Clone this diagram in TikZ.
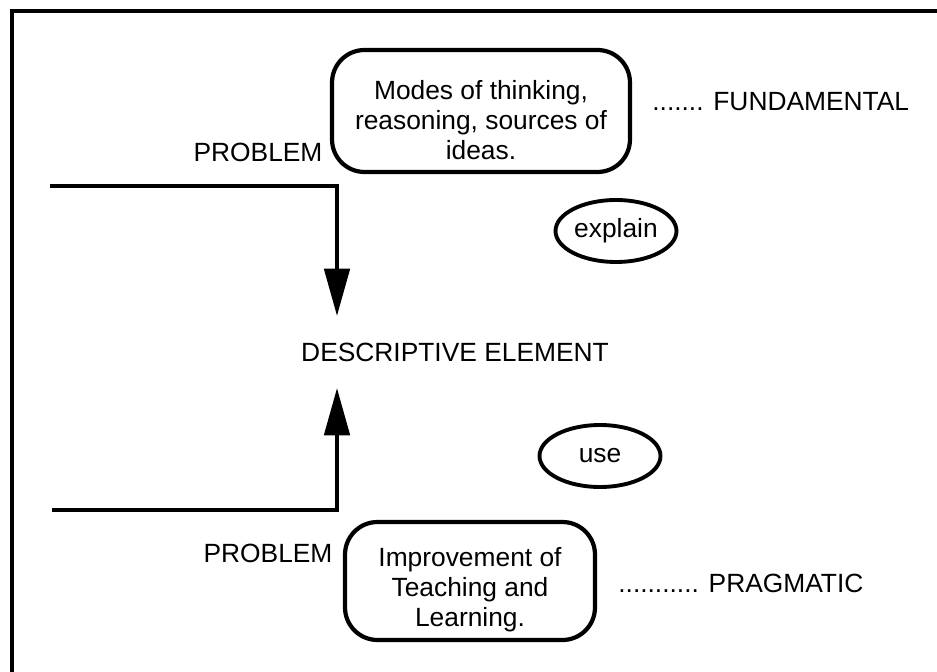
\documentclass[tikz,border=0pt]{standalone}
\usepackage{fontspec}
\setmainfont{Liberation Sans}
\usetikzlibrary{arrows.meta,shapes.geometric}
\begin{document}
\begin{tikzpicture}[x=0.02cm,y=-0.02cm,font=\fontsize{15}{17}\selectfont,
        idea/.style={draw,line width=2.4pt,rounded corners=0.65cm,align=center,inner sep=0pt},
        verb/.style={draw,ellipse,line width=2.2pt,minimum width=2.42cm,minimum height=1.24cm,inner sep=0pt},
        tag/.style={inner sep=0pt},
        flow/.style={line width=2.8pt,-{Triangle[length=0.95cm,width=0.5cm]}}]
        \useasboundingbox (0,0) rectangle (937,672);
        \draw[line width=2.3pt] (937,11) -- (12,11) -- (12,672);
        \node[idea,minimum width=5.96cm,minimum height=2.44cm,text height=55pt] (modes) at (481,111) {Modes of thinking,\\reasoning, sources of\\ideas.};
        \node[idea,minimum width=5cm,minimum height=2.36cm,text height=54.5pt] (teach) at (470,581) {Improvement of\\Teaching and\\Learning.};
        \node[tag] (prob1) at (258,152) {PROBLEM};
        \node[tag] (prob2) at (268,553) {PROBLEM};
        \node[tag,anchor=west] (fund) at (652,102) {....... FUNDAMENTAL};
        \node[tag,anchor=west] (prag) at (618,583) {........... PRAGMATIC};
        \node[verb] (explain) at (616,231) {explain};
        \node[verb] (use) at (600,456) {use};
        \node[tag,minimum height=1.42cm] (desc) at (455,352) {DESCRIPTIVE ELEMENT};
        \coordinate (in1) at (50,186);
        \coordinate (k1) at (337,186);
        \coordinate (in2) at (52,510);
        \coordinate (k2) at (337,510);
        \draw[flow] (in1) -- (k1) -- (k1 |- desc.north);
        \draw[flow] (in2) -- (k2) -- (k2 |- desc.south);
    \end{tikzpicture}
\end{document}
